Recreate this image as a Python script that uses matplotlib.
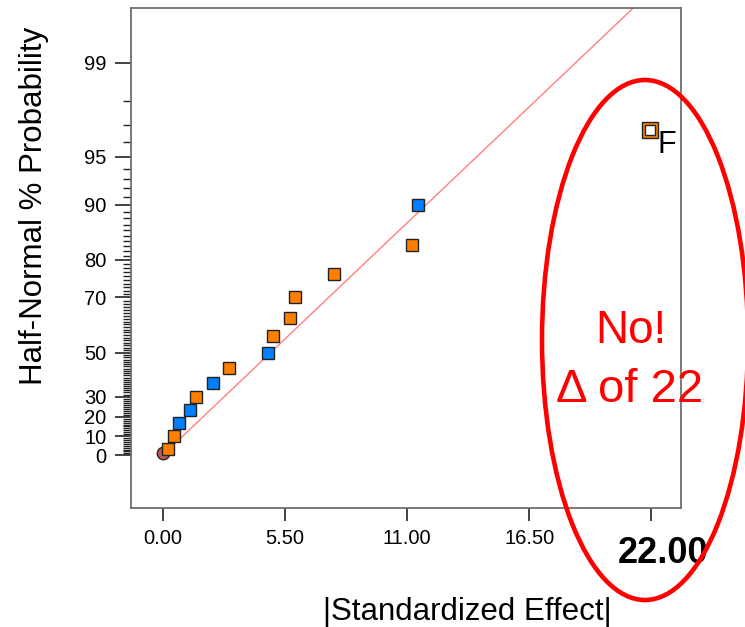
import numpy as np
import matplotlib
matplotlib.use("Agg")
import matplotlib.pyplot as plt
from matplotlib.patches import Ellipse
from statistics import NormalDist

plt.rcParams['font.family'] = ['Liberation Sans', 'DejaVu Sans']

# ---- data ----
effects = [0.24, 0.50, 0.75, 1.24, 1.49, 2.25, 2.97, 4.73, 4.98, 5.72, 5.97, 7.73, 11.23, 11.49, 21.95]
percent = [3.3, 10.0, 16.7, 23.3, 30.0, 36.7, 43.3, 50.0, 56.7, 63.3, 70.0, 76.7, 83.3, 90.0, 96.7]
signs = ['pos', 'pos', 'neg', 'neg', 'pos', 'neg', 'pos', 'neg', 'pos', 'pos', 'pos', 'pos', 'pos', 'neg', 'pos']
labels = ['', '', '', '', '', '', '', '', '', '', '', '', '', '', 'F']
error_effect = [0.0]
error_percent = [1.2]
line_effect = [0.0, 22.0]
line_percent = [0.0, 99.77]
y_major = [0, 10, 20, 30, 50, 70, 80, 90, 95, 99]
y_minor = [p for p in range(1, 99) if p not in y_major]
x_ticks = [0.0, 5.5, 11.0, 16.5, 22.0]
x_ticklabels = ['0.00', '5.50', '11.00', '16.50', '']

colors = {'pos': '#FF8000', 'neg': '#0080FF'}

_nd = NormalDist()
_inv = np.vectorize(_nd.inv_cdf, otypes=[float])
_cdf = np.vectorize(_nd.cdf, otypes=[float])


def fwd(p):
    p = np.asarray(p, dtype=float)
    q = np.clip(0.5 + p / 200.0, 1e-12, 1 - 1e-12)
    return _inv(q)


def inv(z):
    z = np.asarray(z, dtype=float)
    return (_cdf(z) - 0.5) * 200.0


W, H = 745, 627
fig = plt.figure(figsize=(W / 100, H / 100), dpi=100)
ax = fig.add_axes([131 / W, 1 - 507.5 / H, (681 - 131) / W, (507.5 - 7.5) / H])
ax.set_yscale('function', functions=(fwd, inv))
ax.set_xlim(-1.42, 23.33)
ax.set_ylim(-26.8, 99.67)

# fitted line
ax.plot(line_effect, line_percent, color='#FF8080', lw=1.0, zorder=2)

# error point
ax.plot(error_effect, error_percent, 'o', ms=9, mfc='#B35A5A', mec='#3a2020', mew=1.0, zorder=3)

for e, p, s, lab in zip(effects, percent, signs, labels):
    if lab:
        ax.plot([e], [p], 's', ms=11.3, mfc=colors[s], mec='#222222', mew=1.0, zorder=4)
        ax.plot([e], [p], 's', ms=7.0, mfc='white', mec='#222222', mew=1.0, zorder=5)
        ax.annotate(lab, xy=(e, p), xytext=(5.5, -16), textcoords='offset points',
                    ha='left', va='baseline', fontsize=22, color='black', zorder=6)
    else:
        ax.plot([e], [p], 's', ms=8, mfc=colors[s], mec='#222222', mew=1.0, zorder=4)

# axes styling
for sp in ax.spines.values():
    sp.set_color('#707070')
    sp.set_linewidth(1.3)

ax.set_yticks(y_major)
ax.set_yticklabels([str(v) for v in y_major], fontsize=14.5)
ax.set_yticks(y_minor, minor=True)
ax.tick_params(axis='y', which='major', direction='out', length=11.5, width=1.2, color='#222222', pad=6)
ax.tick_params(axis='y', which='minor', direction='out', length=6, width=1.0, color='#222222')

ax.set_xticks(x_ticks)
ax.set_xticklabels(x_ticklabels, fontsize=14.5)
ax.tick_params(axis='x', which='major', direction='out', length=9.5, width=1.2, color='#222222', pad=6)
ax.tick_params(axis='x', which='minor', bottom=False)

# emphasised 22.00 label
ax.annotate('22.00', xy=(x_ticks[-1], 0), xycoords=('data', 'axes fraction'),
            xytext=(8.6, -40), textcoords='offset points', ha='center', va='baseline',
            fontsize=26, fontweight='bold', color='black', annotation_clip=False)

# axis titles
fig.text(467 / W, 1 - 620 / H, '|Standardized Effect|', ha='center', va='baseline', fontsize=22.5)
fig.text(41.7 / W, 1 - 205.5 / H, 'Half-Normal % Probability', rotation=90, rotation_mode='anchor',
         ha='center', va='baseline', fontsize=22.5)

# red annotation
fig.add_artist(Ellipse((645 / W, 1 - 340 / H), 206 / W, 520 / H, transform=fig.transFigure,
                       fill=False, edgecolor='#FF0000', lw=3.3))
fig.text(631 / W, 1 - 343 / H, 'No!', color='#FF0000', fontsize=33, ha='center', va='baseline')
fig.text(630 / W, 1 - 401.7 / H, '\u0394 of 22', color='#FF0000', fontsize=34, ha='center', va='baseline')

fig.savefig('out.png', dpi=100)
